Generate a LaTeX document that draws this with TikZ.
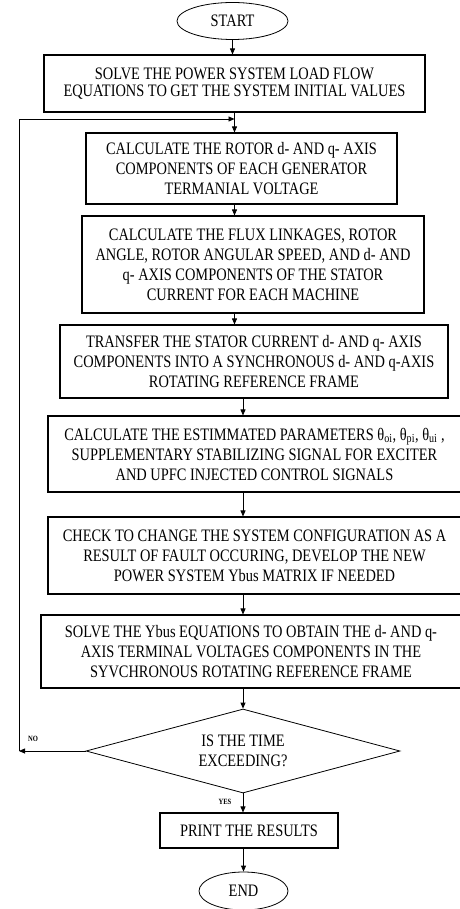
\documentclass[tikz,border=0pt]{standalone}
\usepackage{fontspec}
\setmainfont[FakeStretch=0.823]{Liberation Serif}
\usetikzlibrary{shapes.geometric,arrows.meta}
\begin{document}
\begin{tikzpicture}[x=1pt,y=-1pt,
  box/.style={draw, line width=1.1pt, inner sep=0pt, align=center,
    font=\fontsize{17.5}{20}\selectfont},
  term/.style={draw, ellipse, line width=0.8pt, inner sep=0pt,
    font=\fontsize{17.5}{20}\selectfont},
  lbl/.style={font=\bfseries\fontsize{8}{8}\selectfont, inner sep=0pt},
  arr/.style={line width=0.8pt, -{Triangle[length=6pt,width=5pt]}},
  ln/.style={line width=0.8pt}]
\useasboundingbox (0,0) rectangle (459,909);

\node[term, minimum width=111pt, minimum height=37pt] (start) at (232.5,21) {START};

\node[box, minimum width=381pt, minimum height=57pt, font=\fontsize{17.5}{17.5}\selectfont] (b1) at (234.5,83.5)
  {SOLVE THE POWER SYSTEM LOAD FLOW\\EQUATIONS TO GET THE SYSTEM INITIAL VALUES};

\node[box, minimum width=311pt, minimum height=71pt] (b2) at (241.5,168.5)
  {CALCULATE THE ROTOR d- AND q- AXIS\\COMPONENTS OF EACH GENERATOR\\TERMANIAL VOLTAGE};

\node[box, minimum width=342pt, minimum height=97pt] (b3) at (253,264.5)
  {CALCULATE THE FLUX LINKAGES, ROTOR\\ANGLE, ROTOR ANGULAR SPEED, AND d- AND\\q- AXIS COMPONENTS OF THE STATOR\\CURRENT FOR EACH MACHINE};

\node[box, minimum width=388pt, minimum height=73pt] (b4) at (254,361.5)
  {TRANSFER THE STATOR CURRENT d- AND q- AXIS\\COMPONENTS INTO A SYNCHRONOUS d- AND q-AXIS\\ROTATING REFERENCE FRAME};

\node[box, minimum width=413pt, minimum height=76pt] (b5) at (254.5,454)
  {CALCULATE THE ESTIMMATED PARAMETERS θ\textsubscript{oi}, θ\textsubscript{pi}, θ\textsubscript{ui} ,\\SUPPLEMENTARY STABILIZING SIGNAL FOR EXCITER\\AND UPFC INJECTED CONTROL SIGNALS};

\node[box, minimum width=413pt, minimum height=77pt] (b6) at (254.5,555.5)
  {CHECK TO CHANGE THE SYSTEM CONFIGURATION AS A\\RESULT OF FAULT OCCURING, DEVELOP THE NEW\\POWER SYSTEM Ybus MATRIX IF NEEDED};

\node[box, minimum width=420pt, minimum height=73pt] (b7) at (251,651.5)
  {SOLVE THE Ybus EQUATIONS TO OBTAIN THE d- AND q-\\AXIS TERMINAL VOLTAGES COMPONENTS IN THE\\SYVCHRONOUS ROTATING REFERENCE FRAME};

\node[draw, diamond, line width=0.8pt, inner sep=0pt, aspect=3.7, align=center,
  minimum width=314pt, minimum height=84pt, font=\fontsize{17.5}{20}\selectfont] (dec) at (243,751)
  {IS THE TIME\\EXCEEDING?};

\node[box, minimum width=178pt, minimum height=35pt] (pr) at (249,830.5) {PRINT THE RESULTS};

\node[term, minimum width=89pt, minimum height=38pt] (en) at (243.5,891) {END};

\node[lbl] (no) at (33,739) {NO};
\node[lbl] (yes) at (225,802) {YES};

\coordinate (j) at (234.5,119);
\coordinate (c1) at (19,751);

\draw[arr] (start.south) -- (start.south |- b1.north);
\draw[arr] (b1.south) -- (b1.south |- b2.north);
\draw[arr] (b2.south -| b1.south) -- (b1.south |- b3.north);
\draw[arr] (b3.south -| b1.south) -- (b1.south |- b4.north);
\draw[arr] (dec.north |- b4.south) -- (dec.north |- b5.north);
\draw[arr] (dec.north |- b5.south) -- (dec.north |- b6.north);
\draw[arr] (dec.north |- b6.south) -- (dec.north |- b7.north);
\draw[arr] (dec.north |- b7.south) -- (dec.north);
\draw[arr] (dec.south) -- (dec.south |- pr.north);
\draw[arr] (pr.south -| en.north) -- (en.north);
\draw[arr] (dec.west) -- (c1);
\draw[arr] (c1) -- (c1 |- j) -- (j);
\end{tikzpicture}
\end{document}
